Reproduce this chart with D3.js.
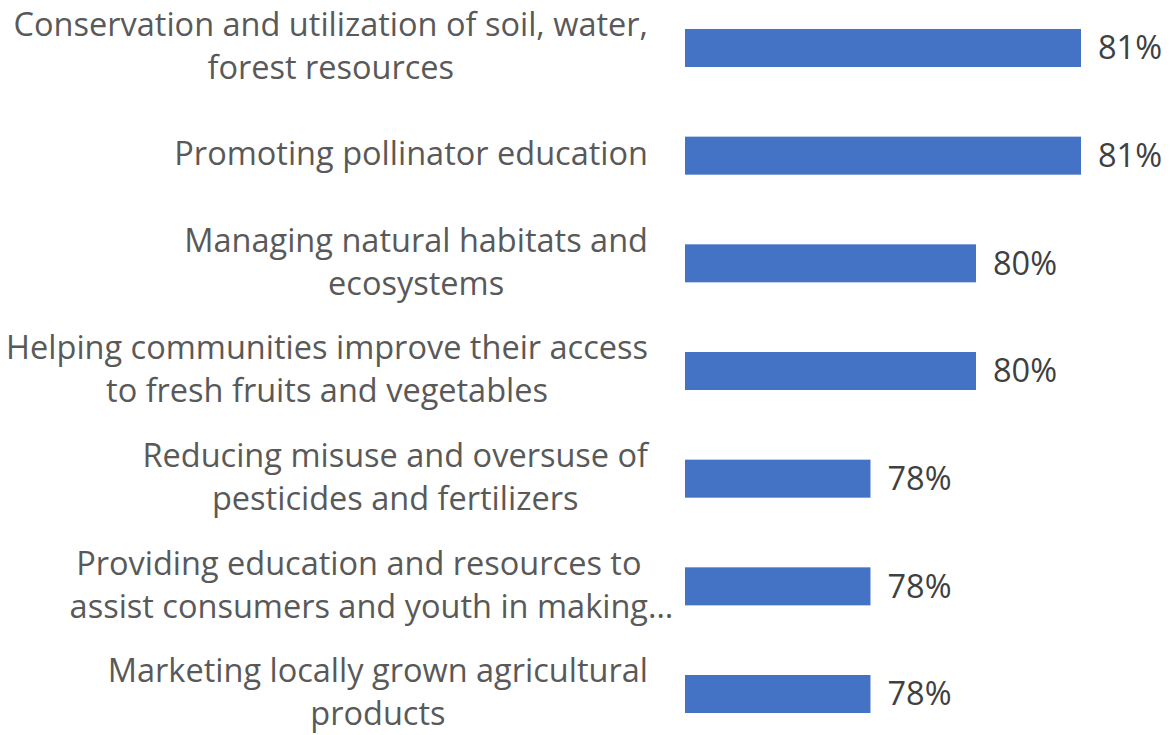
<!DOCTYPE html>
<html>
<head>
<meta charset="utf-8">
<script src="https://cdn.jsdelivr.net/npm/d3@7"></script>
<style>
  body { margin: 0; background: #fff; }
  svg { display: block; font-family: "Open Sans", sans-serif; }
</style>
</head>
<body>
<script>

var categories = [
  ["Conservation and utilization of soil, water,", "forest resources"],
  ["Promoting pollinator education"],
  ["Managing natural habitats and", "ecosystems"],
  ["Helping communities improve their access", "to fresh fruits and vegetables"],
  ["Reducing misuse and oversuse of", "pesticides and fertilizers"],
  ["Providing education and resources to", "assist consumers and youth in making\u2026"],
  ["Marketing locally grown agricultural", "products"]
];
var values = [0.8149, 0.8149, 0.7952, 0.7952, 0.7754, 0.7754, 0.7754];

var width = 1170, height = 735;
var labelRight = 648;

var svg = d3.select("body").append("svg")
    .attr("width", width)
    .attr("height", height);

// axis min sits around 74%
var xMin = 0.7406;
var xScale = d3.scaleLinear().domain([xMin, 0.8149]).range([685, 1081]);
var yScale = d3.scaleBand()
    .domain(d3.range(categories.length))
    .range([-5.85, 747.85])
    .paddingInner(0.647)
    .paddingOuter(0.3235);

var fmt = d3.format(".0%");

// bars
svg.selectAll("rect.bar")
    .data(values)
  .enter().append("rect")
    .attr("class", "bar")
    .attr("x", xScale(xMin))
    .attr("y", function(d, i) { return yScale(i); })
    .attr("width", function(d) { return xScale(d) - xScale(xMin); })
    .attr("height", yScale.bandwidth())
    .attr("fill", "#4472C4");

// value labels
svg.selectAll("text.val")
    .data(values)
  .enter().append("text")
    .attr("class", "val")
    .attr("x", function(d) { return xScale(d) + 17; })
    .attr("y", function(d, i) { return yScale(i) + yScale.bandwidth() / 2; })
    .attr("dy", "0.35em")
    .attr("font-size", "32.5px")
    .attr("fill", "#404040")
    .text(function(d) { return fmt(d); });

// category labels, lines centred inside a right aligned block
var lineH = 43;
categories.forEach(function(lines, i) {
  var cy = yScale(i) + yScale.bandwidth() / 2;
  var g = svg.append("g").attr("class", "cat");
  var texts = lines.map(function(line, j) {
    return g.append("text")
      .attr("y", cy + (j - (lines.length - 1) / 2) * lineH)
      .attr("dy", "0.3em")
      .attr("font-size", "32.5px")
      .attr("fill", "#595959")
      .text(line);
  });
  // width without trailing ellipsis (it hangs past the block)
  var widths = texts.map(function(t) {
    var s = t.text();
    if (s.slice(-1) === "\u2026") {
      var n = t.node().getNumberOfChars();
      return t.node().getSubStringLength(0, n - 1);
    }
    return t.node().getComputedTextLength();
  });
  var blockW = d3.max(widths);
  var cx = labelRight - blockW / 2;
  texts.forEach(function(t, j) {
    t.attr("x", cx - widths[j] / 2);
  });
});

</script>
</body>
</html>
